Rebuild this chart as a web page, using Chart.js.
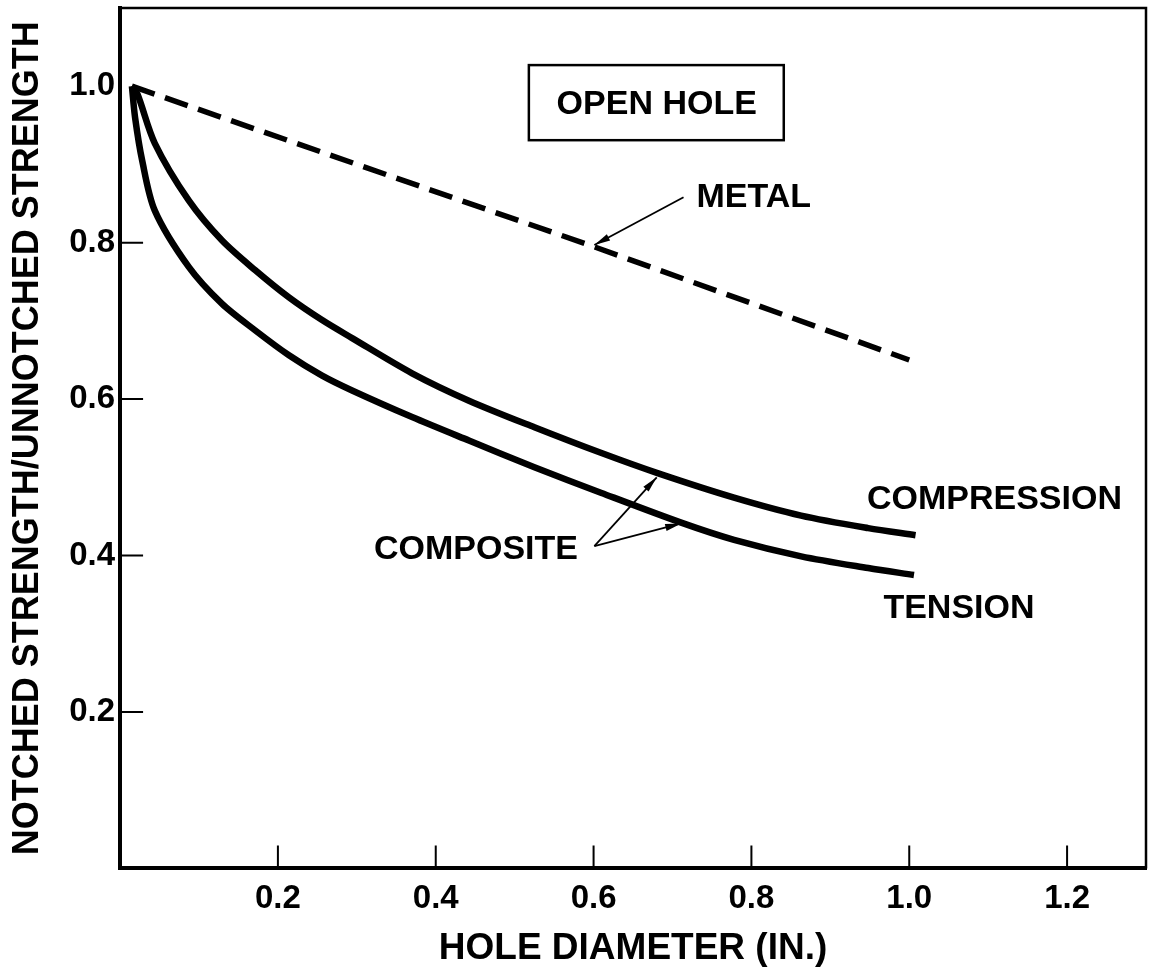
<!DOCTYPE html>
<html>
<head>
<meta charset="utf-8">
<script src="https://cdn.jsdelivr.net/npm/chart.js@4/dist/chart.umd.min.js"></script>
<style>
  html, body { margin: 0; padding: 0; background: #fff; }
</style>
</head>
<body>
<canvas id="chart" width="1157" height="969"></canvas>
<script>
const xTickValues = [0.2, 0.4, 0.6, 0.8, 1.0, 1.2];
const yTickValues = [0.2, 0.4, 0.6, 0.8, 1.0];

const metalX = [0.015, 0.6, 1.0];
const metalY = [1.0, 0.795, 0.65];

const compressionX = [0.015, 0.022, 0.044, 0.087, 0.129, 0.171, 0.214, 0.256, 0.294, 0.370, 0.442, 0.525, 0.610, 0.682, 0.778, 0.863, 0.948, 1.008];
const compressionY = [1.0, 0.99, 0.927, 0.854, 0.803, 0.765, 0.730, 0.701, 0.678, 0.633, 0.598, 0.564, 0.531, 0.505, 0.474, 0.451, 0.435, 0.426];

const tensionX = [0.015, 0.019, 0.028, 0.044, 0.087, 0.129, 0.171, 0.214, 0.256, 0.294, 0.370, 0.442, 0.525, 0.610, 0.711, 0.778, 0.863, 0.948, 1.006];
const tensionY = [1.0, 0.96, 0.905, 0.841, 0.769, 0.722, 0.688, 0.656, 0.630, 0.611, 0.577, 0.547, 0.513, 0.480, 0.442, 0.420, 0.399, 0.384, 0.375];

const FONT = '"Liberation Sans", Arial, Helvetica, sans-serif';

function points(xs, ys) {
    return xs.map((x, i) => ({ x: x, y: ys[i] }));
}

// text notes, the box and the pointer arrows, all in data units
const notes = [
    { text: 'OPEN HOLE', x: 0.68, y: 0.977 },
    { text: 'METAL', x: 0.803, y: 0.857 },
    { text: 'COMPOSITE', x: 0.451, y: 0.408 },
    { text: 'COMPRESSION', x: 1.108, y: 0.471 },
    { text: 'TENSION', x: 1.063, y: 0.332 }
];
const openHoleBox = { x0: 0.518, x1: 0.841, y0: 0.931, y1: 1.027 };
const arrows = [
    { from: [0.714, 0.858], to: [0.601, 0.797] },
    { from: [0.601, 0.412], to: [0.680, 0.500] },
    { from: [0.601, 0.412], to: [0.711, 0.441] }
];

const extras = {
    id: 'extras',
    afterDraw(chart) {
        const { ctx, chartArea: a, scales: { x, y } } = chart;
        ctx.save();
        ctx.strokeStyle = '#000';
        ctx.fillStyle = '#000';

        // top and right frame
        ctx.lineWidth = 2.5;
        ctx.beginPath();
        ctx.moveTo(a.left, a.top);
        ctx.lineTo(a.right, a.top);
        ctx.lineTo(a.right, a.bottom);
        ctx.stroke();

        // tick marks pointing inward
        ctx.lineWidth = 2;
        ctx.beginPath();
        xTickValues.forEach(v => {
            const px = x.getPixelForValue(v);
            ctx.moveTo(px, a.bottom);
            ctx.lineTo(px, a.bottom - 23);
        });
        yTickValues.slice(0, -1).forEach(v => {
            const py = y.getPixelForValue(v);
            ctx.moveTo(a.left, py);
            ctx.lineTo(a.left + 23, py);
        });
        ctx.stroke();

        // box
        ctx.lineWidth = 2.5;
        const bx = x.getPixelForValue(openHoleBox.x0);
        const by = y.getPixelForValue(openHoleBox.y1);
        ctx.strokeRect(bx, by, x.getPixelForValue(openHoleBox.x1) - bx, y.getPixelForValue(openHoleBox.y0) - by);

        // text
        ctx.font = 'bold 34px ' + FONT;
        ctx.textAlign = 'center';
        ctx.textBaseline = 'middle';
        notes.forEach(n => {
            ctx.fillText(n.text, x.getPixelForValue(n.x), y.getPixelForValue(n.y));
        });

        // arrows
        ctx.lineWidth = 1.8;
        arrows.forEach(ar => {
            const x1 = x.getPixelForValue(ar.from[0]), y1 = y.getPixelForValue(ar.from[1]);
            const x2 = x.getPixelForValue(ar.to[0]), y2 = y.getPixelForValue(ar.to[1]);
            ctx.beginPath();
            ctx.moveTo(x1, y1);
            ctx.lineTo(x2, y2);
            ctx.stroke();
            const ang = Math.atan2(y2 - y1, x2 - x1);
            ctx.beginPath();
            ctx.moveTo(x2, y2);
            ctx.lineTo(x2 - 16 * Math.cos(ang) + 3.5 * Math.sin(ang), y2 - 16 * Math.sin(ang) - 3.5 * Math.cos(ang));
            ctx.lineTo(x2 - 16 * Math.cos(ang) - 3.5 * Math.sin(ang), y2 - 16 * Math.sin(ang) + 3.5 * Math.cos(ang));
            ctx.closePath();
            ctx.fill();
        });
        ctx.restore();
    }
};

const ctx = document.getElementById('chart').getContext('2d');
const chart = new Chart(ctx, {
    type: 'line',
    data: {
        datasets: [
            {
                label: 'METAL',
                data: points(metalX, metalY),
                borderColor: '#000',
                borderWidth: 5.5,
                borderDash: [24, 11],
                pointRadius: 0,
                tension: 0
            },
            {
                label: 'COMPRESSION',
                data: points(compressionX, compressionY),
                borderColor: '#000',
                borderWidth: 6.5,
                pointRadius: 0,
                tension: 0.3
            },
            {
                label: 'TENSION',
                data: points(tensionX, tensionY),
                borderColor: '#000',
                borderWidth: 6.5,
                pointRadius: 0,
                tension: 0.3
            }
        ]
    },
    options: {
        responsive: false,
        animation: false,
        devicePixelRatio: 1,
        layout: {
            padding: { left: 6, top: 8, right: 11, bottom: 2 }
        },
        plugins: {
            legend: { display: false },
            tooltip: { enabled: false }
        },
        scales: {
            x: {
                type: 'linear',
                min: 0,
                max: 1.3,
                grid: { display: false, drawTicks: false },
                border: { display: true, color: '#000', width: 4 },
                afterBuildTicks: (scale) => {
                    scale.ticks = xTickValues.map(v => ({ value: v }));
                },
                ticks: {
                    autoSkip: false,
                    maxRotation: 0,
                    padding: 11,
                    color: '#000',
                    font: { family: FONT, size: 33, weight: 'bold', lineHeight: 1.2 },
                    callback: (v) => v.toFixed(1)
                },
                title: {
                    display: true,
                    text: 'HOLE DIAMETER (IN.)',
                    color: '#000',
                    font: { family: FONT, size: 37, weight: 'bold', lineHeight: 1.0 },
                    padding: { top: 0, bottom: 0 }
                }
            },
            y: {
                type: 'linear',
                min: 0,
                max: 1.1,
                grid: { display: false, drawTicks: false },
                border: { display: true, color: '#000', width: 4 },
                afterBuildTicks: (scale) => {
                    scale.ticks = yTickValues.map(v => ({ value: v }));
                },
                ticks: {
                    autoSkip: false,
                    padding: 5,
                    color: '#000',
                    font: { family: FONT, size: 33, weight: 'bold', lineHeight: 0.01 },
                    callback: (v) => v.toFixed(1)
                },
                title: {
                    display: true,
                    text: 'NOTCHED STRENGTH/UNNOTCHED STRENGTH',
                    color: '#000',
                    font: { family: FONT, size: 36, weight: 'bold', lineHeight: 1.2 },
                    padding: { top: 0, bottom: 15 }
                }
            }
        }
    },
    plugins: [extras]
});
</script>
</body>
</html>
